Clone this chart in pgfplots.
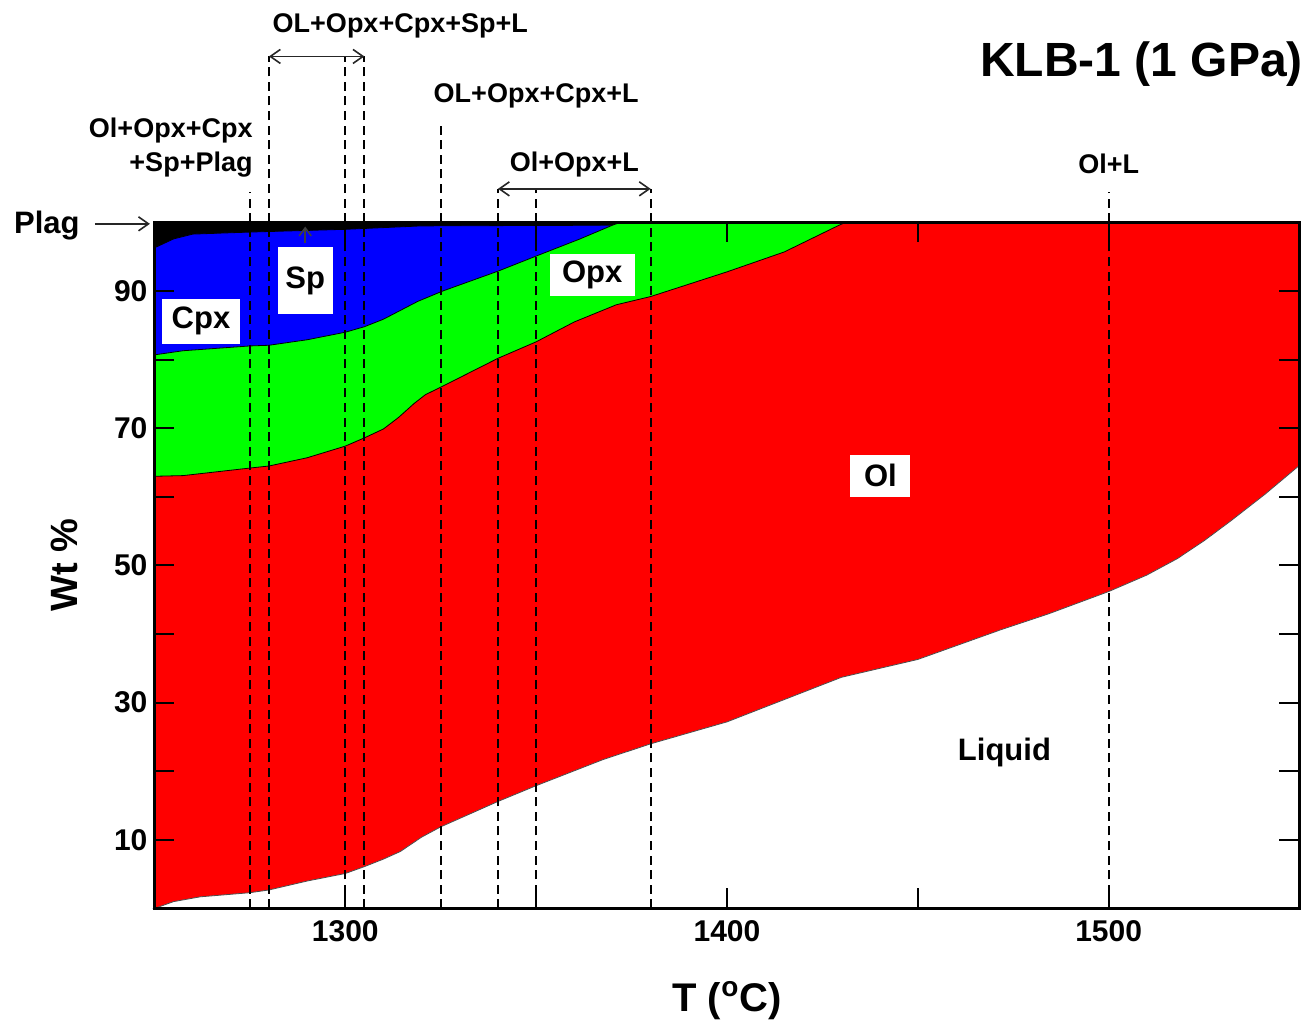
\documentclass[border=0pt]{standalone}
\usepackage{fontspec}
\setmainfont{Liberation Sans}
\usepackage{pgfplots}
\pgfplotsset{compat=1.18}
\usetikzlibrary{arrows.meta}

\begin{document}
\begin{tikzpicture}[font=\bfseries,
  dl/.style={line width=1.05pt, dash pattern=on 4.5pt off 2.8pt, black},
  lbl/.style={fill=white, inner sep=0pt, font=\fontsize{15.5}{15.5}\selectfont\bfseries},
  ann/.style={font=\fontsize{13.5}{17}\selectfont\bfseries, inner sep=0pt},
  dar/.style={line width=0.8pt, black!85, {Straight Barb[length=5pt,width=7pt]}-{Straight Barb[length=5pt,width=7pt]}}]
\begin{axis}[
  scale only axis, width=572.5pt, height=343pt,
  xmin=1250, xmax=1550, ymin=0, ymax=100,
  axis on top, clip=false,
  axis line style={line width=1.8pt},
  tick align=inside, tick style={line width=1pt, black},
  major tick length=10pt,
  xtick={1300,1350,1400,1450,1500}, xticklabels={1300,,1400,,1500},
  ytick={10,20,...,90}, yticklabels={10,,30,,50,,70,,90},
  ticklabel style={font=\fontsize{15}{15}\selectfont\bfseries},
  xticklabel style={yshift=-2.5pt},
  /pgf/number format/assume math mode=true,
]
% black (Plag + Sp)
\addplot[fill=black, draw=black] coordinates {(1250,100) (1550,100)} \closedcycle;
% Cpx (blue)
\addplot[fill=blue, draw=black, line width=0.4pt] coordinates {
(1250,96.3) (1255,97.6) (1260,98.3) (1275,98.6) (1300,99.0) (1320,99.5) (1370,99.6) (1372,100) (1550,100)} \closedcycle;
% Opx (green)
\addplot[fill=green, draw=black, line width=0.4pt] coordinates {
(1250,80.7) (1257.5,81.3) (1275,82.0) (1280,82.1) (1290,82.9) (1300,84.0) (1305,84.8) (1310,85.9) (1319,88.5) (1325.5,90.0) (1340,92.9) (1350,95.1) (1361.5,97.6) (1370,99.6) (1372,100) (1550,100)} \closedcycle;
% Ol (red)
\addplot[fill=red, draw=black, line width=0.4pt] coordinates {
(1250,63.0) (1257.5,63.1) (1275,64.2) (1280,64.5) (1290,65.7) (1300,67.4) (1305,68.6) (1310,69.9) (1314,71.6) (1318,73.6) (1321,74.9) (1325.4,76.1) (1340,80.2) (1350,82.6) (1360,85.5) (1371,88.0) (1380,89.2) (1400,92.8) (1415,95.7) (1429,99.5) (1431,100) (1550,100)} \closedcycle;
% Liquid (white)
\addplot[fill=white, draw=black!70, line width=0.4pt] coordinates {
(1250,0) (1255,1.0) (1262,1.7) (1275,2.3) (1280,2.7) (1290,4.0) (1300,5.1) (1305,6.1) (1310,7.2) (1314.4,8.3) (1320,10.4) (1325,11.9) (1340,15.6) (1350,17.9) (1367.5,21.7) (1380,24.0) (1400,27.2) (1430,33.7) (1450,36.3) (1471.6,40.6) (1484.5,43.0) (1500,46.2) (1510,48.6) (1518,51.0) (1525,53.6) (1532,56.5) (1541,60.4) (1550,64.6)} \closedcycle;

% dashed vertical lines
\draw[dl] (axis cs:1275,0) -- (axis cs:1275,104.4);
\draw[dl] (axis cs:1280,0) -- (axis cs:1280,124.2);
\draw[dl] (axis cs:1300,0) -- (axis cs:1300,124.2);
\draw[dl] (axis cs:1305,0) -- (axis cs:1305,124.2);
\draw[dl] (axis cs:1325,0) -- (axis cs:1325,114.4);
\draw[dl] (axis cs:1340,0) -- (axis cs:1340,104.9);
\draw[dl] (axis cs:1350,0) -- (axis cs:1350,104.9);
\draw[dl] (axis cs:1380,0) -- (axis cs:1380,104.9);
\draw[dl] (axis cs:1500,0) -- (axis cs:1500,104.4);

% range arrows
\draw[dar] (axis cs:1280,124.2) -- (axis cs:1305,124.2);
\draw[dar] (axis cs:1340,104.9) -- (axis cs:1380,104.9);

% annotations above
\node[ann] at (axis cs:1314.4,128.7) {OL+Opx+Cpx+Sp+L};
\node[ann] at (axis cs:1350,118.5) {OL+Opx+Cpx+L};
\node[ann, anchor=east, align=right] at (axis cs:1275.8,110.9) {Ol+Opx+Cpx\\+Sp+Plag};
\node[ann] at (axis cs:1360,108.5) {Ol+Opx+L};
\node[ann] at (axis cs:1500,108.5) {Ol+L};
\node[anchor=east, inner sep=0pt, font=\fontsize{24}{24}\selectfont\bfseries] at (axis cs:1551,123.1) {KLB-1 (1 GPa)};

% Plag arrow
\node[inner sep=0pt, font=\fontsize{15.5}{15.5}\selectfont\bfseries] at (axis cs:1221.8,99.5) {Plag};
\draw[line width=0.8pt, black!85, -{Straight Barb[length=5pt,width=7pt]}] (axis cs:1234.4,99.8) -- (axis cs:1248.8,99.8);

% phase labels
\node[lbl, minimum width=39pt, minimum height=22.5pt] at (axis cs:1262.2,85.6) {Cpx};
\node[lbl, minimum width=27.5pt, minimum height=33.5pt] at (axis cs:1289.5,91.5) {Sp};
\draw[line width=0.8pt, black!75, -{Straight Barb[length=4pt,width=6pt]}] (axis cs:1289.5,97.0) -- (axis cs:1289.5,99.4);
\node[lbl, minimum width=42.5pt, minimum height=21pt] at (axis cs:1364.7,92.3) {Opx};
\node[lbl, minimum width=30pt, minimum height=21pt] at (axis cs:1440.2,63.1) {Ol};
\node[inner sep=0pt, font=\fontsize{15.5}{15.5}\selectfont\bfseries] at (axis cs:1472.7,22.8) {Liquid};

% axis labels
\node[rotate=90, inner sep=0pt, font=\fontsize{19}{19}\selectfont\bfseries] at (axis cs:1226.5,50.1) {Wt \%};
\node[inner sep=0pt, font=\fontsize{20}{20}\selectfont\bfseries] at (axis cs:1400,-13.4) {T (\textsuperscript{o}C)};

% bounding box matching the reference canvas
\path (rel axis cs:-0.1349,-0.1713) rectangle (rel axis cs:1.0083,1.3243);
\end{axis}
\end{tikzpicture}
\end{document}
